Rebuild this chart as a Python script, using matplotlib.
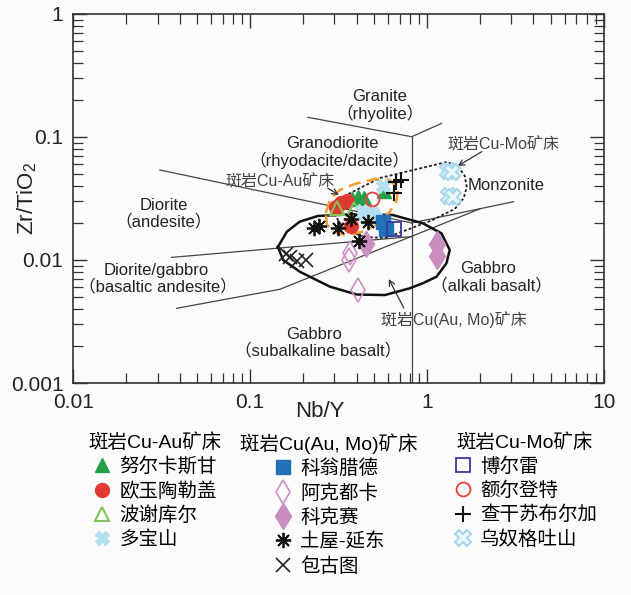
import matplotlib
matplotlib.use('Agg')
import matplotlib.pyplot as plt
from matplotlib.ticker import FixedLocator, FixedFormatter, LogLocator, NullFormatter

plt.rcParams['font.family'] = ['Liberation Sans', 'Noto Sans CJK SC']
plt.rcParams['mathtext.fontset'] = 'custom'
plt.rcParams['mathtext.rm'] = 'Liberation Sans'
plt.rcParams['mathtext.it'] = 'Liberation Sans:italic'
plt.rcParams['axes.unicode_minus'] = False

# ---------------- data: samples (Nb/Y, Zr/TiO2) ----------------
nuerkasigan_x = [0.376, 0.406, 0.439, 0.570]
nuerkasigan_y = [0.0313, 0.0325, 0.0319, 0.0364]
oyu_x = [0.305, 0.326, 0.352, 0.371]
oyu_y = [0.0270, 0.0291, 0.0302, 0.0189]
boshekul_x = [0.309, 0.386]
boshekul_y = [0.0265, 0.0260]
duobaoshan_x = [0.5625, 0.428, 0.457, 0.488, 0.507, 0.463]
duobaoshan_y = [0.0400, 0.0250, 0.0237, 0.0246, 0.0224, 0.0215]
kounrad_x = [0.5625, 0.585]
kounrad_y = [0.0204, 0.0179]
aktogay_x = [0.366, 0.362, 0.406]
aktogay_y = [0.0114, 0.0100, 0.0057]
koksay_x = [0.451, 1.136, 1.136]
koksay_y = [0.01349, 0.01349, 0.01078]
tuwu_x = [0.229, 0.245, 0.313, 0.371, 0.463, 0.412]
tuwu_y = [0.0182, 0.0189, 0.0182, 0.0215, 0.0204, 0.01427]
baogutu_x = [0.159, 0.168, 0.184, 0.207]
baogutu_y = [0.0112, 0.0106, 0.0098, 0.0100]
boshchekul_x = [0.649]
boshchekul_y = [0.0179]
erdenet_x = [0.488]
erdenet_y = [0.0313]
tsagaan_x = [0.666, 0.711, 0.649]
tsagaan_y = [0.0431, 0.0447, 0.0351]
wunugetu_x = [1.311, 1.381, 1.328, 1.399]
wunugetu_y = [0.0529, 0.0519, 0.0331, 0.0325]

# ---------------- data: field boundaries ----------------
granite_x = [0.212, 0.82, 1.21]
granite_y = [0.1445, 0.1005, 0.129]
vertical_x = [0.82, 0.82]
vertical_y = [0.1005, 0.001]
granodiorite_x = [0.0309, 0.82]
granodiorite_y = [0.0539, 0.0200]
monzonite_x = [0.82, 3.09]
monzonite_y = [0.0200, 0.0298]
diorite_x = [0.036, 0.82]
diorite_y = [0.0105, 0.0155]
basalt_x = [0.0385, 0.1474, 2.0]
basalt_y = [0.00405, 0.00578, 0.0261]

# deposit-type envelopes
cuaumo_x = [0.1436, 0.1615, 0.191, 0.2415, 0.417, 0.641, 0.947, 1.207, 1.345, 1.288,
            1.132, 0.947, 0.80, 0.578, 0.401, 0.2825, 0.191, 0.1538, 0.1436]
cuaumo_y = [0.01276, 0.0170, 0.0205, 0.0228, 0.02366, 0.0232, 0.01988, 0.01648, 0.01206, 0.0094,
            0.00731, 0.00647, 0.00589, 0.00519, 0.00524, 0.00607, 0.00803, 0.0100, 0.01276]
cuau_x = [0.268, 0.2824, 0.3215, 0.391, 0.507, 0.6163, 0.684, 0.675, 0.616, 0.527,
          0.428, 0.3477, 0.2936, 0.2716, 0.268]
cuau_y = [0.0241, 0.03075, 0.0371, 0.0415, 0.0455, 0.0447, 0.0385, 0.0307, 0.0246, 0.0196,
          0.01689, 0.01597, 0.01689, 0.0196, 0.0241]
cumo_x = [0.3014, 0.541, 1.294, 1.493, 1.635, 1.679, 1.614, 1.436, 1.079, 0.769,
          0.578, 0.445, 0.343, 0.301, 0.3014]
cumo_y = [0.0302, 0.0464, 0.0626, 0.0581, 0.0482, 0.0392, 0.0319, 0.0260, 0.0212, 0.01753,
          0.0151, 0.01538, 0.01753, 0.0232, 0.0302]

x_ticks = [0.01, 0.1, 1, 10]
x_tick_labels = ['0.01', '0.1', '1', '10']
y_ticks = [0.001, 0.01, 0.1, 1]
y_tick_labels = ['0.001', '0.01', '0.1', '1']

field_labels = ['Granite', '（rhyolite）', 'Granodiorite', '（rhyodacite/dacite）',
                'Diorite', '（andesite）', 'Diorite/gabbro', '（basaltic andesite）',
                'Gabbro', '（alkali basalt）', 'Gabbro', '（subalkaline basalt）']
field_label_pos = [(0.541, 0.2128), (0.541, 0.156), (0.29, 0.0889), (0.2825, 0.0642),
                   (0.0326, 0.0275), (0.0326, 0.0205), (0.0294, 0.00819), (0.0301, 0.00607),
                   (2.206, 0.00856), (2.32, 0.00626), (0.2293, 0.0025), (0.2415, 0.00183)]

bg = '#fbfbfb'
fig = plt.figure(figsize=(6.31, 5.95), dpi=100, facecolor=bg)
ax = fig.add_axes([0.116, 0.3563, 0.841, 0.6202])
ax.set_facecolor(bg)
ax.set_xscale('log')
ax.set_yscale('log')
ax.set_xlim(0.01, 10)
ax.set_ylim(0.001, 1)

# boundaries
lc = '#444444'
for xs, ys in [(granite_x, granite_y), (vertical_x, vertical_y), (granodiorite_x, granodiorite_y),
               (monzonite_x, monzonite_y), (diorite_x, diorite_y), (basalt_x, basalt_y)]:
    ax.plot(xs, ys, color=lc, lw=0.9, zorder=1)

ax.plot(cuaumo_x, cuaumo_y, color='#111111', lw=1.8, zorder=2)
ax.plot(cumo_x, cumo_y, color='#222222', lw=1.3, ls=(0, (1.6, 1.2)), zorder=2)
ax.plot(cuau_x, cuau_y, color='#f39c32', lw=1.8, ls=(0, (5, 2.5)), zorder=2)

# samples
mk = dict(ls='none', zorder=4)
h = {}
h['努尔卡斯甘'] = ax.plot(nuerkasigan_x, nuerkasigan_y, marker='^', ms=10, color='#22a045', **mk)[0]
h['欧玉陶勒盖'] = ax.plot(oyu_x, oyu_y, marker='o', ms=10, color='#e03a33', **mk)[0]
h['波谢库尔'] = ax.plot(boshekul_x, boshekul_y, marker='^', ms=10, mfc='none', mec='#82c45a', mew=1.5, **mk)[0]
h['多宝山'] = ax.plot(duobaoshan_x, duobaoshan_y, marker='X', ms=10, color='#b3dff0', **mk)[0]
h['科翁腊德'] = ax.plot(kounrad_x, kounrad_y, marker='s', ms=10, color='#2271b8', **mk)[0]
h['阿克都卡'] = ax.plot(aktogay_x, aktogay_y, marker='d', ms=12, mfc='none', mec='#cc8fc3', mew=1.2, **mk)[0]
h['科克赛'] = ax.plot(koksay_x, koksay_y, marker='d', ms=13, color='#c98dc0', **mk)[0]
h['土屋-延东'] = ax.plot(tuwu_x, tuwu_y, marker=(8, 2, 0), ms=11, color='#111111', mew=1.3, **mk)[0]
h['包古图'] = ax.plot(baogutu_x, baogutu_y, marker='x', ms=10, color='#222222', mew=1.2, **mk)[0]
h['博尔雷'] = ax.plot(boshchekul_x, boshchekul_y, marker='s', ms=10, mfc='none', mec='#3a3a9a', mew=1.3, **mk)[0]
h['额尔登特'] = ax.plot(erdenet_x, erdenet_y, marker='o', ms=10, mfc='none', mec='#e8403a', mew=1.3, **mk)[0]
h['查干苏布尔加'] = ax.plot(tsagaan_x, tsagaan_y, marker='+', ms=11, color='#111111', mew=1.5, **mk)[0]
h['乌奴格吐山'] = ax.plot(wunugetu_x, wunugetu_y, marker='X', ms=12, mfc='#e8f5fb', mec='#a8d8ec', mew=1.5, **mk)[0]

# field labels
for t, (x, y) in zip(field_labels, field_label_pos):
    ax.text(x, y, t, ha='center', va='center', fontsize=12, color='#222222', zorder=3)
ax.text(1.70, 0.0407, 'Monzonite', ha='left', va='center', fontsize=12, color='#222222', zorder=3)

# annotations
arrow = dict(arrowstyle='->', color='#333333', lw=0.9, shrinkA=0, shrinkB=0)
ax.text(0.1474, 0.0433, '斑岩Cu-Au矿床', ha='center', va='center', fontsize=11.5, color='#444444')
ax.annotate('', xy=(0.3175, 0.0338), xytext=(0.275, 0.0383), arrowprops=arrow)
ax.text(2.716, 0.0861, '斑岩Cu-Mo矿床', ha='center', va='center', fontsize=11.5, color='#444444')
ax.annotate('', xy=(1.493, 0.0581), xytext=(2.04, 0.076), arrowprops=arrow)
ax.text(1.417, 0.00331, '斑岩Cu(Au, Mo)矿床', ha='center', va='center', fontsize=11.5, color='#444444')
ax.annotate('', xy=(0.608, 0.0070), xytext=(0.74, 0.00407), arrowprops=arrow)

# axes styling
for s in ax.spines.values():
    s.set_color('#333333')
    s.set_linewidth(1.2)
ax.xaxis.set_major_locator(FixedLocator(x_ticks))
ax.xaxis.set_major_formatter(FixedFormatter(x_tick_labels))
ax.yaxis.set_major_locator(FixedLocator(y_ticks))
ax.yaxis.set_major_formatter(FixedFormatter(y_tick_labels))
ax.xaxis.set_minor_locator(LogLocator(base=10, subs=range(2, 10)))
ax.yaxis.set_minor_locator(LogLocator(base=10, subs=range(2, 10)))
ax.xaxis.set_minor_formatter(NullFormatter())
ax.yaxis.set_minor_formatter(NullFormatter())
ax.tick_params(which='both', direction='in', top=True, right=True, color='#333333',
               labelcolor='#222222')
ax.tick_params(which='major', length=10, width=1.0, labelsize=15, pad=7)
ax.tick_params(which='minor', length=7, width=0.9)

ax.set_xlabel('Nb/Y', fontsize=16, color='#222222')
ax.xaxis.set_label_coords(0.465, -0.05)
ax.set_ylabel('Zr/TiO$_\\mathrm{2}$', fontsize=16, color='#222222')
ax.yaxis.set_label_coords(-0.064, 0.5)

# legends
groups = [
    ('斑岩Cu-Au矿床', ['努尔卡斯甘', '欧玉陶勒盖', '波谢库尔', '多宝山'], 88),
    ('斑岩Cu(Au, Mo)矿床', ['科翁腊德', '阿克都卡', '科克赛', '土屋-延东', '包古图'], 240),
    ('斑岩Cu-Mo矿床', ['博尔雷', '额尔登特', '查干苏布尔加', '乌奴格吐山'], 453),
]
W, H = 631, 595
for title, names, x0 in groups:
    fig.legend(handles=[h[n] for n in names], labels=names, title=title,
               loc='upper left', bbox_to_anchor=(x0 / W, 1 - 433 / H),
               frameon=False, fontsize=14, title_fontsize=14,
               handlelength=1.0, handletextpad=0.4, labelspacing=0.3,
               borderpad=0, borderaxespad=0, numpoints=1)

fig.savefig('out.png', dpi=100, facecolor=bg)
